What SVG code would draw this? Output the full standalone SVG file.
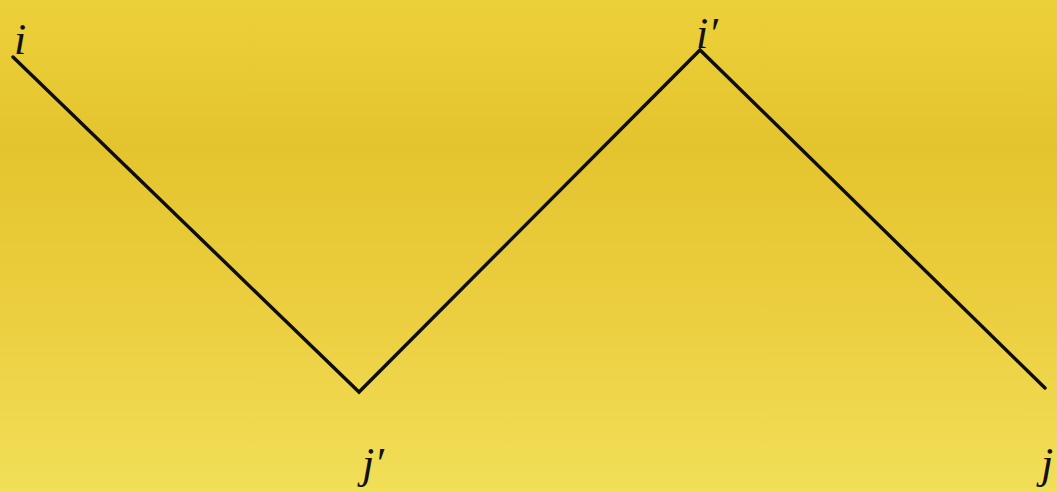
<svg xmlns="http://www.w3.org/2000/svg" width="1057" height="492" viewBox="0 0 1057 492">
<style>
.lbl{font-family:"Liberation Serif","DejaVu Serif",serif;font-style:italic;font-size:44px;fill:#111}
.edge{stroke:#0d0d0a;stroke-width:3.4;fill:none;stroke-linecap:round;stroke-linejoin:miter}
</style>
<defs>
<linearGradient id="bg" x1="0" y1="0" x2="0" y2="1">
<stop offset="0" stop-color="#ecd03a"/>
<stop offset="0.3" stop-color="#e4c42e"/>
<stop offset="0.65" stop-color="#eccf40"/>
<stop offset="1" stop-color="#f1df58"/>
</linearGradient>
</defs>
<rect width="1057" height="492" fill="url(#bg)"/>
<g id="connectors">
<polyline class="edge" points="13,57 359,392 700,50 1045,388"/>
</g>
<g id="node-i"><text class="lbl" x="14" y="54">i</text></g>
<g id="node-i-prime"><text class="lbl" x="696" y="48">i′</text></g>
<g id="node-j-prime"><text class="lbl" x="362" y="478">j′</text></g>
<g id="node-j"><text class="lbl" x="1041" y="478">j</text></g>
</svg>
